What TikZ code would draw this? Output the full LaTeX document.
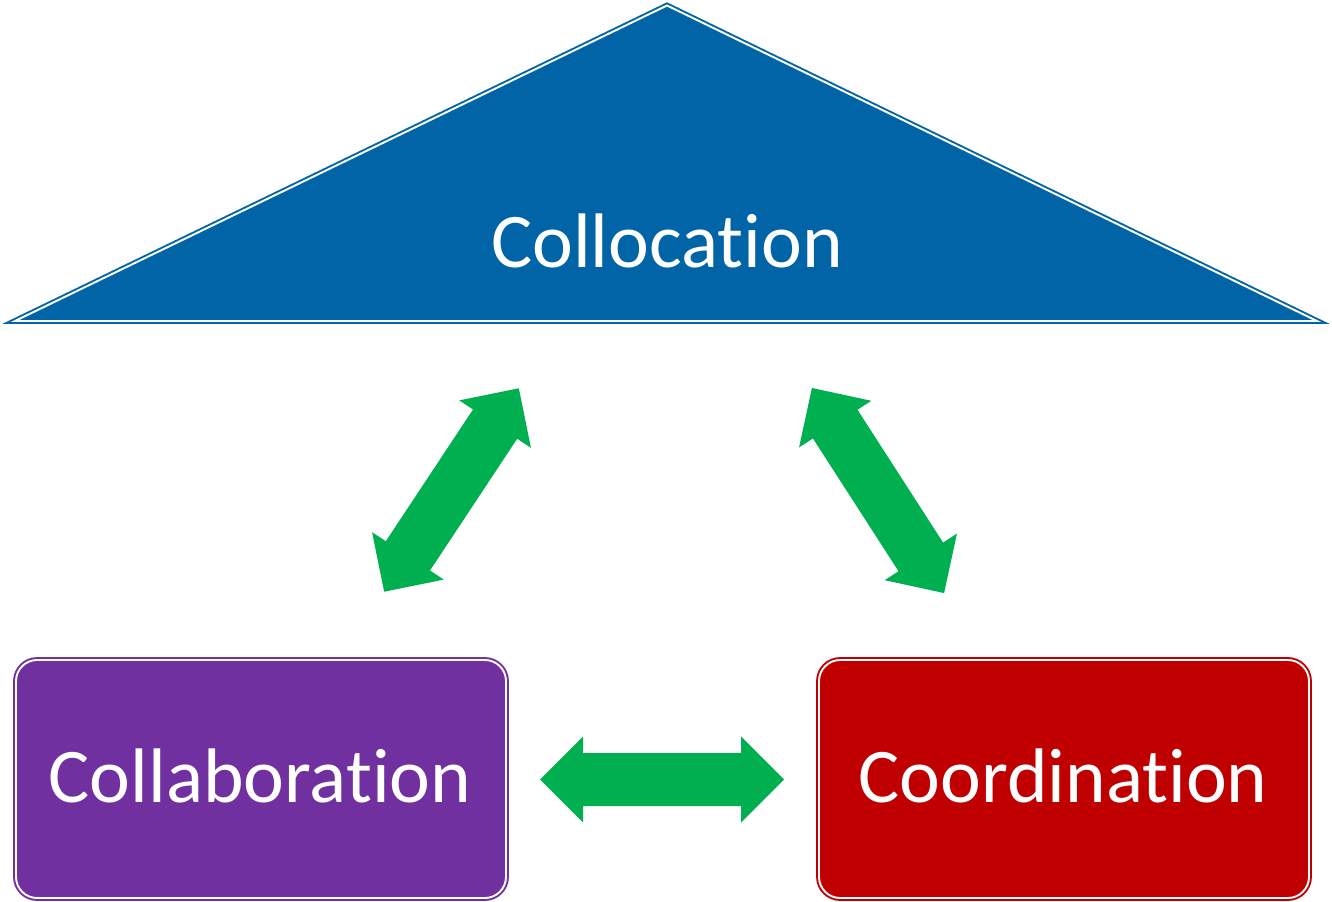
\documentclass[tikz,border=0pt]{standalone}
\usepackage{fontspec}
\setmainfont[Ligatures=NoCommon]{Carlito}
\definecolor{roofblue}{RGB}{0,100,166}
\definecolor{boxpurple}{RGB}{112,48,160}
\definecolor{boxred}{RGB}{192,0,0}
\definecolor{arrowgreen}{RGB}{0,176,80}
\tikzset{
  rim/.style={draw=#1,fill=#1,line width=1.1pt,double=white,double distance=1.1pt},
  bigtext/.style={text=white,font=\fontsize{44}{50}\selectfont,inner sep=0pt,anchor=base},
  blockarrow/.style={fill=arrowgreen,draw=none}
}
\begin{document}
\begin{tikzpicture}[x=0.02cm,y=-0.02cm]
  \useasboundingbox (0,0) rectangle (1332,902);
  % roof and the two boxes
  \draw[rim=roofblue,line join=miter] (667,5.5) -- (1317,321) -- (15,321) -- cycle;
  \draw[rim=boxpurple,rounded corners=12pt] (16,660) rectangle (506,898);
  \draw[rim=boxred,rounded corners=12pt] (819,660) rectangle (1309,898);
  \node[bigtext] (collocation) at (667,268) {Collocation};
  \node[bigtext] (collaboration) at (260,802) {Collaboration};
  \node[bigtext] (coordination) at (1063,802) {Coordination};
  % green double arrows
  \pgfmathsetmacro\tip{122}
  \pgfmathsetmacro\neck{79}
  \pgfmathsetmacro\head{43}
  \pgfmathsetmacro\shaft{26.5}
  \foreach \cx/\cy/\ang in {662/779.5/0, 451.5/490/56.5, 878/490.5/122.8} {
    \begin{scope}[shift={(\cx,\cy)},rotate=\ang]
      \fill[blockarrow] (-\tip,0) -- (-\neck,-\head) -- (-\neck,-\shaft) -- (\neck,-\shaft)
        -- (\neck,-\head) -- (\tip,0) -- (\neck,\head) -- (\neck,\shaft)
        -- (-\neck,\shaft) -- (-\neck,\head) -- cycle;
    \end{scope}
  }
\end{tikzpicture}
\end{document}
